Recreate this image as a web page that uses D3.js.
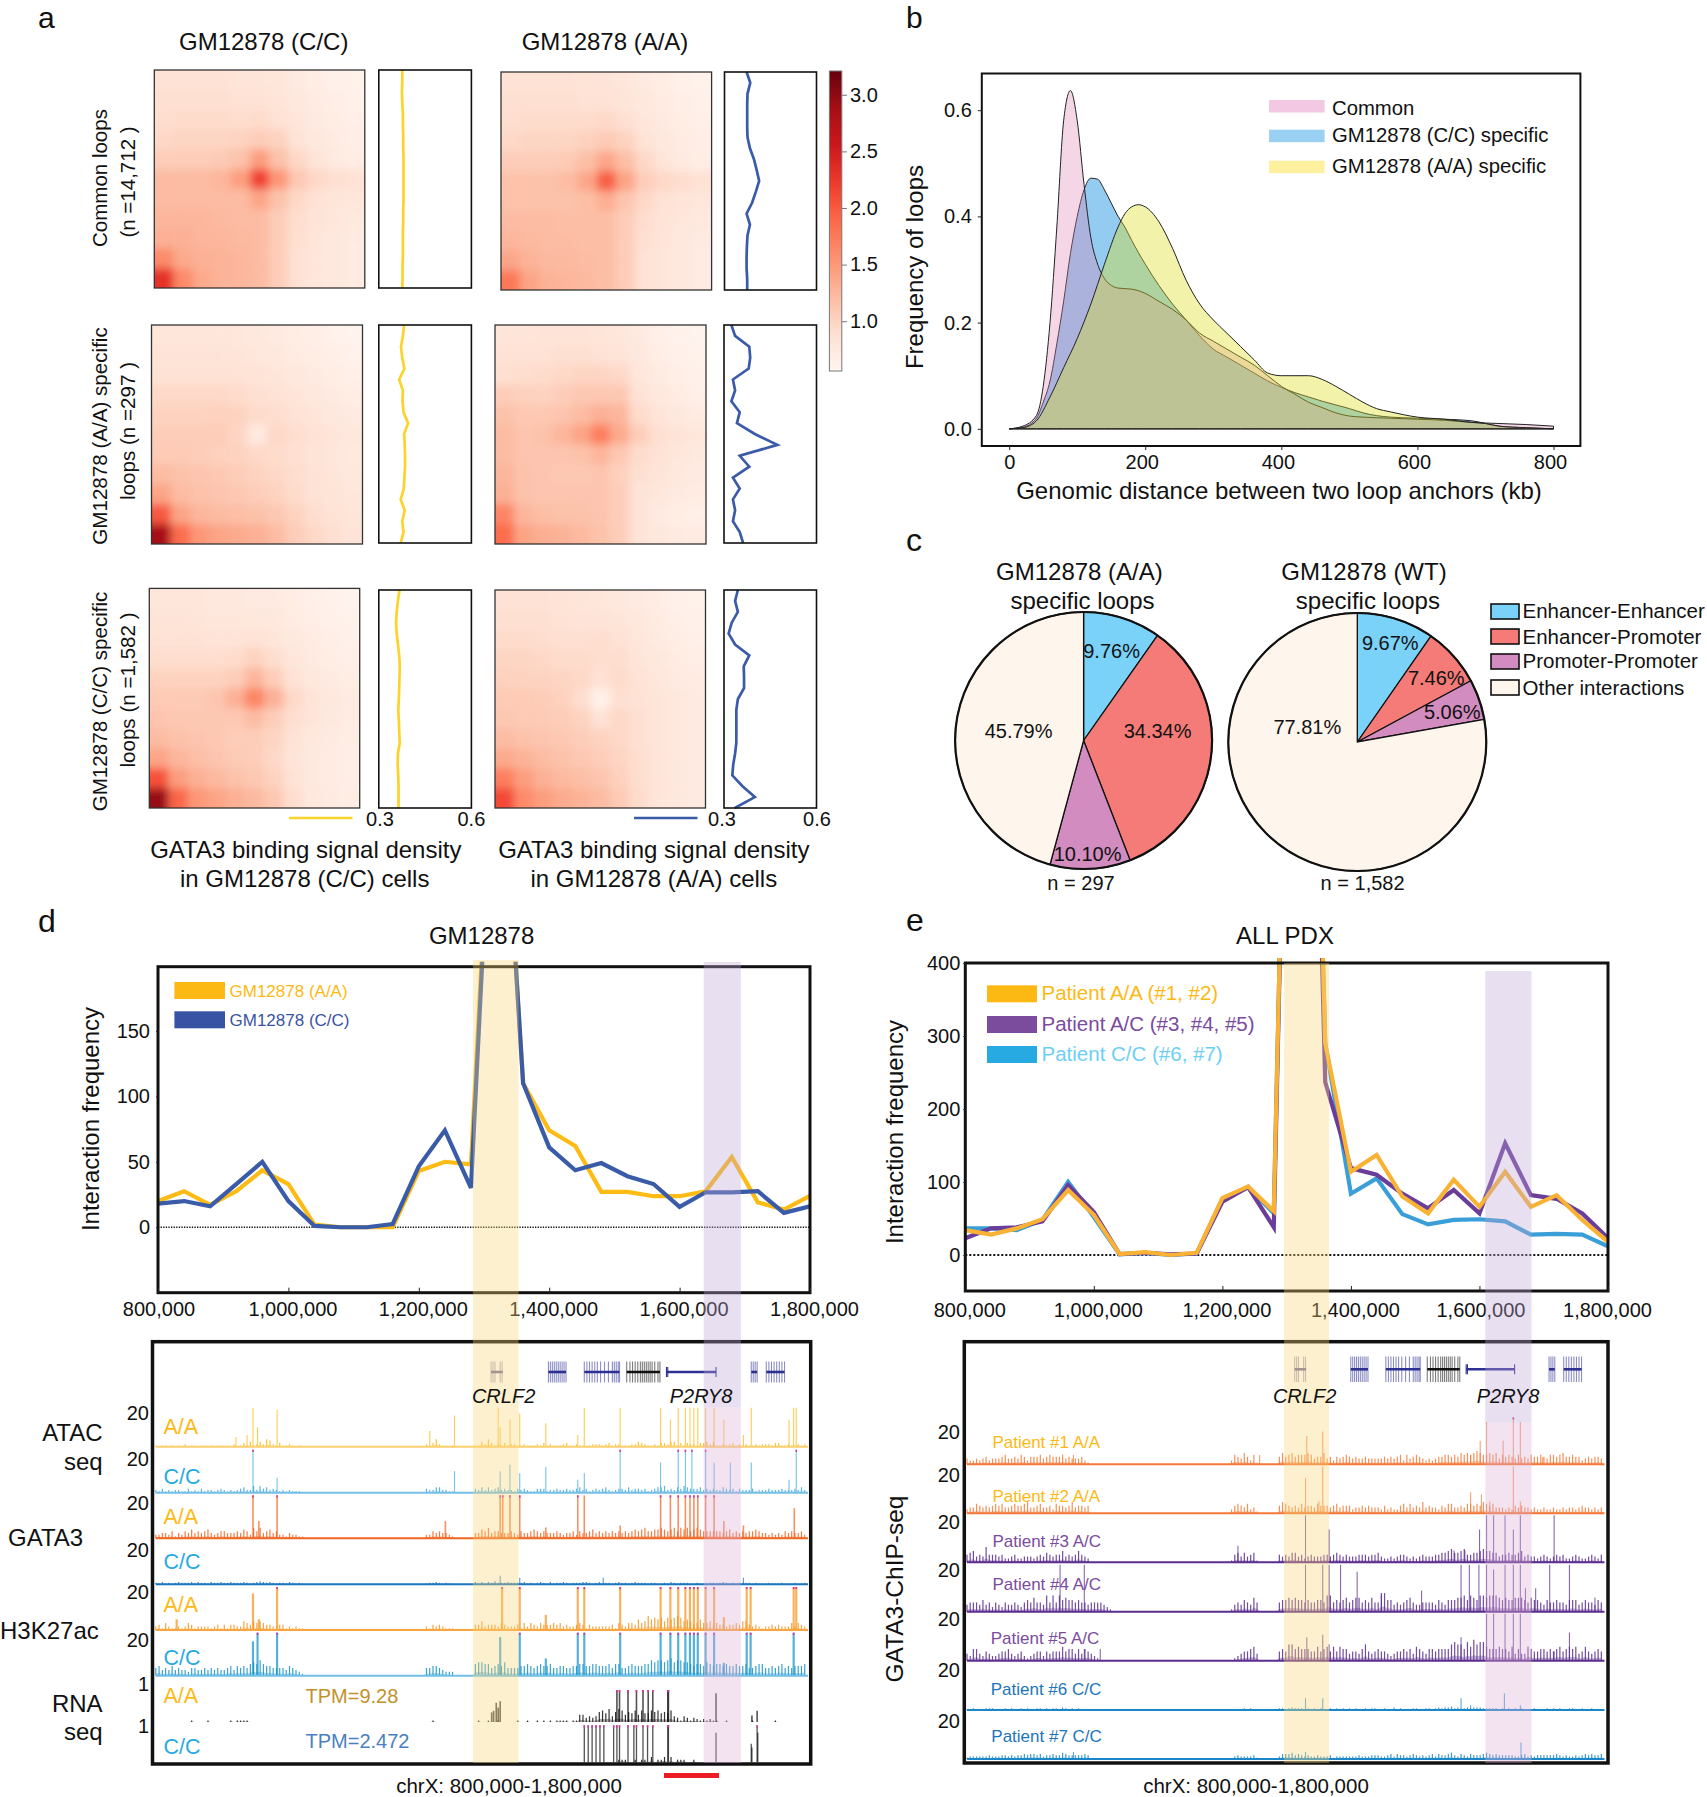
<!DOCTYPE html>
<html>
<head>
<meta charset="utf-8">
<script src="https://cdn.jsdelivr.net/npm/d3@7"></script>
<style>
body { margin: 0; background: #fff; }
text { font-family: "Liberation Sans", Arial, sans-serif; fill: #111; }
</style>
</head>
<body>
<script>
// ---------- panel a: aggregate contact maps, 11 x 11 cells, top row first
const heatCommonCC = [
  [.85,.85,.85,.85,.80,.80,.78,.72,.68,.62,.60],
  [.88,.88,.88,.88,.85,.85,.80,.75,.70,.66,.62],
  [.90,.92,.92,.92,.90,.92,.85,.78,.72,.68,.64],
  [.95,.98,.98,.98,1.0,1.05,1.0,.82,.75,.70,.66],
  [1.05,1.05,1.05,1.08,1.15,1.45,1.15,.95,.80,.72,.68],
  [1.2,1.2,1.2,1.25,1.45,2.15,1.5,1.1,.95,.88,.85],
  [1.2,1.2,1.2,1.2,1.2,1.4,1.15,.95,.85,.8,.78],
  [1.25,1.25,1.25,1.22,1.2,1.2,1.05,.9,.82,.78,.74],
  [1.3,1.3,1.25,1.25,1.22,1.2,1.05,.88,.8,.75,.72],
  [1.6,1.35,1.3,1.28,1.25,1.2,1.05,.85,.78,.75,.7],
  [2.3,1.6,1.35,1.28,1.25,1.2,1.05,.85,.78,.75,.7],
];
const heatCommonAA = [
  [.85,.85,.85,.85,.82,.82,.78,.72,.68,.62,.60],
  [.88,.88,.88,.88,.85,.85,.80,.75,.70,.66,.62],
  [.90,.92,.92,.92,.92,.95,.88,.78,.72,.68,.64],
  [.95,.98,.98,.98,1.02,1.08,1.0,.84,.75,.70,.66],
  [1.05,1.05,1.05,1.08,1.18,1.38,1.18,.95,.80,.72,.68],
  [1.15,1.15,1.15,1.2,1.38,1.95,1.4,1.05,.95,.9,.85],
  [1.15,1.15,1.15,1.15,1.18,1.32,1.12,.95,.85,.8,.78],
  [1.2,1.2,1.2,1.18,1.18,1.18,1.05,.9,.82,.78,.74],
  [1.25,1.22,1.2,1.2,1.18,1.18,1.05,.88,.8,.75,.72],
  [1.38,1.28,1.22,1.22,1.2,1.18,1.05,.85,.78,.75,.7],
  [1.75,1.4,1.28,1.25,1.22,1.18,1.05,.85,.78,.75,.7],
];
const heatAASpecCC = [
  [.78,.78,.78,.78,.78,.75,.72,.68,.66,.6,.58],
  [.82,.82,.82,.82,.8,.78,.75,.7,.68,.65,.6],
  [.85,.85,.85,.85,.85,.82,.8,.75,.72,.68,.64],
  [.95,.95,.95,.95,.92,.88,.85,.8,.75,.72,.68],
  [1.0,1.0,1.0,1.02,1.0,.92,.9,.85,.8,.75,.72],
  [1.05,1.05,1.05,1.05,.98,.72,.95,.9,.85,.8,.75],
  [1.08,1.08,1.05,1.02,1.0,.95,.92,.88,.82,.78,.74],
  [1.2,1.15,1.12,1.1,1.05,1.0,.95,.9,.85,.8,.75],
  [1.4,1.2,1.15,1.12,1.1,1.05,1.0,.92,.85,.82,.78],
  [2.0,1.4,1.25,1.2,1.18,1.15,1.1,1.0,.9,.85,.8],
  [2.85,1.85,1.5,1.4,1.35,1.3,1.2,1.05,.95,.88,.82],
];
const heatAASpecAA = [
  [.8,.8,.82,.82,.82,.8,.78,.72,.65,.6,.58],
  [.85,.85,.85,.88,.88,.85,.82,.75,.68,.62,.6],
  [.88,.9,.92,.95,.98,.98,.95,.78,.72,.66,.62],
  [1.05,1.02,1.0,1.05,1.1,1.1,1.1,.85,.75,.7,.65],
  [1.15,1.1,1.1,1.12,1.2,1.3,1.25,.92,.82,.75,.7],
  [1.2,1.12,1.15,1.25,1.4,1.7,1.35,1.05,.88,.82,.78],
  [1.2,1.12,1.12,1.12,1.15,1.25,1.1,.92,.85,.78,.74],
  [1.25,1.15,1.12,1.1,1.1,1.12,1.02,.88,.82,.76,.72],
  [1.3,1.15,1.12,1.12,1.12,1.12,1.05,.82,.78,.72,.7],
  [1.65,1.25,1.18,1.15,1.15,1.12,1.05,.82,.72,.68,.65],
  [1.85,1.4,1.32,1.28,1.22,1.15,1.05,.82,.75,.72,.7],
];
const heatCCSpecCC = [
  [.78,.78,.78,.75,.75,.72,.72,.68,.64,.6,.58],
  [.82,.82,.8,.78,.78,.76,.75,.7,.66,.62,.6],
  [.85,.85,.85,.82,.82,.85,.8,.74,.7,.66,.62],
  [.9,.9,.9,.9,.92,1.0,.9,.78,.72,.68,.64],
  [1.0,1.0,1.0,1.0,1.05,1.25,1.05,.85,.76,.72,.68],
  [1.08,1.08,1.08,1.12,1.3,1.65,1.3,.95,.82,.76,.72],
  [1.12,1.1,1.1,1.1,1.1,1.2,1.05,.9,.8,.74,.7],
  [1.2,1.15,1.12,1.1,1.05,1.05,.98,.85,.76,.72,.68],
  [1.4,1.25,1.18,1.12,1.08,1.05,.95,.82,.74,.7,.66],
  [2.05,1.45,1.3,1.22,1.15,1.1,1.0,.85,.74,.7,.66],
  [2.95,1.9,1.5,1.4,1.3,1.22,1.1,.9,.76,.72,.68],
];
const heatCCSpecAA = [
  [.85,.85,.85,.82,.8,.78,.75,.72,.68,.62,.6],
  [.88,.88,.88,.85,.82,.82,.8,.75,.7,.65,.62],
  [.92,.92,.9,.88,.88,.9,.85,.78,.72,.68,.64],
  [.98,.98,.95,.92,.92,.9,.9,.8,.75,.7,.66],
  [1.02,1.0,1.0,.98,.95,.85,.92,.84,.78,.72,.7],
  [1.08,1.08,1.05,1.02,.9,.62,.88,.85,.8,.76,.72],
  [1.1,1.08,1.08,1.05,1.0,.85,.95,.88,.8,.76,.72],
  [1.2,1.15,1.12,1.1,1.05,1.0,.95,.88,.8,.76,.72],
  [1.35,1.28,1.2,1.15,1.1,1.05,.98,.9,.8,.76,.72],
  [1.7,1.45,1.3,1.22,1.18,1.12,1.02,.9,.8,.76,.72],
  [2.1,1.6,1.45,1.35,1.28,1.2,1.08,.92,.8,.76,.72],
];
const heatStops = ["#fff5f0","#fee0d2","#fcbba1","#fc9272","#fb6a4a","#ef3b2c","#cb181d","#a50f15","#67000d"];
const colorbarTicks = [1.0, 1.5, 2.0, 2.5, 3.0];

// GATA3 signal next to each map, top to bottom
const gataCommonCC = [.376,.376,.375,.376,.378,.378,.379,.379,.380,.380,.380,.380,.380,.379,.379,.378,.378,.378,.377,.377,.376];
const gataCommonAA = [.372,.384,.375,.374,.374,.374,.375,.383,.396,.405,.413,.402,.390,.372,.383,.375,.373,.372,.372,.374,.374];
const gataAASpecCC = [.382,.378,.372,.376,.383,.366,.378,.377,.380,.395,.382,.384,.385,.385,.383,.381,.371,.384,.376,.380,.371];
const gataAASpecAA = [.324,.336,.382,.385,.380,.329,.336,.324,.351,.342,.400,.473,.351,.382,.329,.351,.329,.336,.329,.351,.362];
const gataCCSpecCC = [.367,.362,.358,.356,.358,.362,.366,.368,.367,.366,.365,.363,.365,.366,.368,.362,.361,.363,.364,.364,.364];
const gataCCSpecAA = [.345,.336,.345,.325,.315,.336,.382,.364,.365,.365,.345,.340,.340,.340,.340,.336,.330,.327,.360,.400,.335];

// ---------- panel b: loop distance density
const distCommon = [[0,0],[20,.005],[40,.025],[50,.08],[60,.2],[70,.38],[80,.58],[90,.637],[100,.58],[110,.46],[120,.36],[130,.31],[140,.283],[150,.27],[160,.265],[180,.263],[200,.255],[220,.24],[240,.225],[260,.205],[280,.18],[300,.165],[320,.15],[340,.135],[360,.12],[380,.1],[400,.08],[420,.065],[440,.05],[460,.04],[480,.03],[500,.024],[520,.022],[560,.02],[600,.018],[640,.016],[680,.012],[720,.01],[760,.008],[800,.005]];
const distCC = [[0,0],[20,.003],[40,.02],[50,.05],[60,.09],[70,.16],[80,.24],[90,.33],[100,.40],[110,.45],[120,.472],[130,.47],[140,.45],[150,.425],[160,.40],[170,.38],[180,.355],[200,.31],[220,.27],[240,.235],[260,.205],[280,.175],[300,.15],[320,.135],[340,.12],[360,.105],[380,.09],[400,.078],[420,.068],[440,.06],[460,.052],[480,.045],[500,.038],[520,.03],[560,.022],[600,.02],[640,.018],[680,.015],[720,.005],[760,.002],[800,0]];
const distAA = [[0,0],[20,.002],[40,.015],[60,.06],[80,.115],[100,.17],[120,.235],[140,.31],[160,.38],[170,.405],[180,.418],[190,.422],[200,.418],[220,.39],[240,.34],[260,.28],[280,.235],[300,.205],[320,.18],[340,.155],[360,.13],[380,.105],[400,.1],[420,.1],[440,.1],[460,.093],[480,.08],[500,.065],[520,.05],[540,.038],[560,.032],[600,.022],[640,.018],[680,.012],[700,.01],[720,.005],[760,.002],[800,0]];
const distLegend = ["Common", "GM12878 (C/C) specific", "GM12878 (A/A) specific"];
const distXTicks = [0, 200, 400, 600, 800];
const distYTicks = [0, .2, .4, .6];

// ---------- panel c
const pieCategories = ["Enhancer-Enhancer", "Enhancer-Promoter", "Promoter-Promoter", "Other interactions"];
const pieAA = [9.76, 34.34, 10.10, 45.79];
const pieWT = [9.67, 7.46, 5.06, 77.81];

// ---------- panels d and e: interaction frequency, one value per 40 kb bin
const binStarts = d3.range(26).map(i => 800000 + i * 40000);
const freqTicksX = [800000, 1000000, 1200000, 1400000, 1600000, 1800000];
const gmAA = [20,27.5,17,27.5,43.5,33,2,0,0,0,43,50,48,430,110,74,62,27,27,23.7,23.7,27.5,53.7,19,13.5,24];
const gmCC = [18,20,16,33,50,20,1,0,0,2.5,46.5,74,30,430,110,61,43.5,49,39,33,15.5,26.7,26.7,27.5,11,16];
const pdxAA = [34,28,36.5,49,89,55,1.4,4,0,3,78,94,60,1600,290,114,137,80,57,103,66,114,66,82,48,18];
const pdxAC = [23,36.5,38,46,96,59,1.4,3,1,2,73,93,38,1600,237,119,110,84,64,89,57,153,82,77,57,23];
const pdxCC = [36.5,36.5,34,48,100,52,1,3,0,2,77,93,57,1600,290,84,105,56,42,48,49,46,28,29,28,12];

// ---------- genes, kb on chrX
const geneSpans = [[1314,1332],[1402,1429],[1457,1511],[1522,1573],[1583,1659],[1713,1722],[1736,1764]];
const geneExons = [
  [1314,1317,1320,1328,1331],
  [1402,1405,1408,1411,1414,1417,1420,1423,1426,1429],
  [1457,1461,1465,1469,1473,1477,1482,1488,1494,1500,1503,1506,1509,1511],
  [1522,1527,1531,1535,1539,1543,1546,1549,1552,1555,1558,1561,1565,1570,1573],
  [1583,1585,1659],
  [1713,1716,1719,1722],
  [1736,1740,1744,1748,1752,1756,1760,1764],
];

// ---------- signal tracks: tall peaks as [kb, signal], 25 means cut off at the top of the track
const atacAAPeaks = [[923,5],[940,6],[949,20],[956,10],[986,19],[1220,8],[1258,16],[1325,20],[1328,10],[1343,14],[1358,17],[1398,12],[1447,6],[1457,20],[1512,20],[1574,20],[1589,14],[1601,20],[1612,20],[1619,20],[1625,20],[1631,20],[1643,20],[1656,20],[1671,14],[1701,6],[1713,20],[1771,14],[1778,20],[1782,20]];
const atacCCPeaks = [[949,25],[986,7],[1258,10],[1328,10],[1343,13],[1358,9],[1398,12],[1447,6],[1457,9],[1512,25],[1574,14],[1601,25],[1612,25],[1622,25],[1643,25],[1656,14],[1681,14],[1713,14],[1771,6],[1782,25]];
const gataAAPeaks = [[949,25],[958,8],[986,25],[1244,8],[1328,25],[1332,25],[1343,25],[1358,25],[1398,5],[1447,25],[1457,20],[1512,6],[1574,25],[1589,25],[1601,25],[1612,25],[1619,25],[1625,25],[1631,25],[1643,25],[1656,25],[1671,8],[1701,6],[1779,14]];
const gataCCPeaks = [[1328,4],[1358,3],[1486,3],[1701,3]];
const h3kAAPeaks = [[832,5],[949,17],[958,5],[986,25],[1331,25],[1358,25],[1398,7],[1447,25],[1457,25],[1512,25],[1574,25],[1589,25],[1601,25],[1612,25],[1619,25],[1625,25],[1631,25],[1643,25],[1656,25],[1671,6],[1706,25],[1712,25],[1778,25],[1782,25]];
const h3kCCPeaks = [[949,16],[956,25],[986,25],[1328,18],[1358,25],[1398,8],[1447,25],[1457,25],[1512,25],[1574,25],[1589,25],[1601,25],[1612,25],[1619,25],[1625,25],[1631,25],[1643,25],[1656,25],[1671,6],[1706,25],[1712,25],[1778,25]];
const rnaAAPeaks = [[1315,.3],[1318,.35],[1322,.6],[1325,.45],[1328,.65],[1507,1.2],[1511,1.2],[1524,1.2],[1537,1.2],[1547,1.2],[1555,1.2],[1562,1.2],[1585,1.2],[1586,1.2],[1659,.9],[1714,.2],[1722,.35]];
const rnaCCPeaks = [[1457,1.2],[1463,1.2],[1469,1.2],[1475,1.2],[1481,1.2],[1487,1.2],[1502,1.2],[1507,1.2],[1511,1.2],[1524,1.2],[1533,1.2],[1537,1.2],[1547,1.2],[1554,1.2],[1562,1.2],[1585,1.2],[1586,1.2],[1659,.8],[1713,.5],[1714,.4],[1722,1.2],[1723,.8]];
const p1Peaks = [[967,4],[1259,4],[1333,12],[1358,14],[1590,4],[1605,10],[1615,18],[1641,10],[1657,21],[1668,18],[1703,3]];
const p2Peaks = [[1331,15],[1352,5],[1358,20],[1590,9],[1607,8],[1620,5],[1657,20],[1668,5]];
const p3Peaks = [[1225,7],[1331,20],[1368,14],[1564,5],[1581,5],[1604,14],[1615,20],[1626,20],[1644,20],[1657,14],[1668,20],[1721,20]];
const p4Peaks = [[946,20],[984,20],[1331,20],[1358,20],[1368,20],[1386,20],[1412,17],[1450,7],[1513,9],[1575,20],[1588,20],[1603,20],[1615,20],[1626,18],[1644,20],[1657,20],[1668,20],[1676,10],[1692,10],[1714,20],[1745,20],[1785,6]];
const p5Peaks = [[984,5],[1009,5],[1333,10],[1358,11],[1368,7],[1575,10],[1615,20],[1626,20],[1644,20],[1657,20],[1668,20],[1721,4],[1745,12]];
const p6Peaks = [[1331,5],[1358,5],[1575,5],[1590,2],[1643,7],[1668,2]];
const p7Peaks = [[967,3],[1331,3],[1669,7]];

// small signal, one digit per 5 kb bin: left part from 800 kb, middle from 1215 kb, right part from 1290 kb
const atacAANoise = ["10110101020110110101101020131412426521311210100", "213621101", "1142631213122112111213121112301211012221231221112243211213324413132213342411212312121121222133112112122321"];
const atacCCNoise = ["21312122113121312212321212342252534232121211100", "322442211", "3242423423221323211333122322322342312323421233242332312344523243543334232322432313222312223222322232423222"];
const gataAANoise = ["22332413243534345323443334354264634534221322110", "224343321", "3354634433343243345434333432334243345343434343434545644556545646564565444444345343434454332323243433423433"];
const gataCCNoise = ["21312123222323221322322322232123432321221321210", "122321211", "3131324222322223121232131223212223321231221232212322212211213212221121112212321212222121112111211121121212"];
const h3kAANoise = ["23142112124312222123131332254354543322331212110", "213232111", "3352333243222314243243334342322343132222223143244364586767576787565346445343323343553232122323222424322343"];
const h3kCCNoise = ["45343534332443343434334535454676865544443543210", "445543222", "6776645657444455654565564455445566556655564664456555668788789788776566576566565565564456644545645455564545"];
const rnaAANoise = ["00000000000100001000000101111000000000000000000", "001000000", "0100100100000100100101010111101155343478694798576858668786768431431321212110010000000100000010000000001000"];
const rnaCCNoise = ["00000000000000000000000000000000000000000000000", "000000000", "0000000000000000000000000000000000000000000011100101102011202011100100000000000000000000000000000000000000"];
const p1Noise = ["32232342333453343542444534544453433342100000000", "254364251", "4645645556534463424345434334333334343452534543232344554546565676556563545435343544543554564454423434434342"];
const p2Noise = ["23354343454533454456334533425443463443400000000", "245435231", "4654343534435444345344423343433324232245353436343324355334355454654533323243433232232232232332343323235454"];
const p3Noise = ["45634384443422342233323435434463434643200000000", "145353451", "4343553423433344345434333444344532232344323234333445567556744556766553445445634332343234342234322343245443"];
const p4Noise = ["34443534243243343245464437474756554544344443210", "134354364", "4556565545445547745456456645464488553434564334444354355566757657767776565566654655435445443555345443545544"];
const p5Noise = ["32553243223445323421234424344464553535432100000", "012344563", "4547756555446456464655344357434544323445453654355455557877586978865556554635336544554545645656346434544544"];
const p6Noise = ["11211122211121211212112212122132121211100000000", "011121211", "2212322212121211212121212112122112113121112211221232334232232333222221212121211121112121211221121121112212"];
const p7Noise = ["12222223222332323343443423343354333334300000000", "023222231", "2444534323223222312222222322233322342433234323234243345324324333454343333322342323333334323223234343343342"];

const svg = d3.select("body").append("svg").attr("width", 1707).attr("height", 1797);

function label(parent, x, y, str, size, anchor, color, extra) {
  const t = parent.append("text").attr("x", x).attr("y", y).attr("font-size", size)
    .attr("text-anchor", anchor || "start").text(str);
  if (color) t.style("fill", color);
  if (extra) t.style("font-style", extra);
  return t;
}
function vlabel(parent, x, y, str, size) {
  return parent.append("text").attr("transform", `translate(${x},${y}) rotate(-90)`)
    .attr("font-size", size).attr("text-anchor", "middle").text(str);
}
function styleAxis(g, size) {
  g.select(".domain").remove();
  g.selectAll("line").attr("stroke", "#222");
  g.selectAll("text").attr("font-size", size).style("font-family", '"Liberation Sans", Arial, sans-serif');
}

// ---------- panel a
const heatColor = d3.scaleLinear().domain(heatStops.map((c, i) => .55 + i * (3.2 - .55) / 8)).range(heatStops);

svg.append("defs").append("filter").attr("id", "soft").append("feGaussianBlur").attr("stdDeviation", 4.2);

function drawHeat(matrix, x0, x1, y0, y1, id) {
  const cols = d3.scaleBand().domain(d3.range(11)).range([x0, x1]);
  const rows = d3.scaleBand().domain(d3.range(11)).range([y0, y1]);
  svg.select("defs").append("clipPath").attr("id", id).append("rect")
    .attr("x", x0).attr("y", y0).attr("width", x1 - x0).attr("height", y1 - y0);
  const g = svg.append("g").attr("clip-path", `url(#${id})`).append("g").attr("filter", "url(#soft)");
  matrix.forEach((row, r) => row.forEach((v, c) => {
    // edge cells run past the clip so the blur does not fade at the border
    const pad = 20;
    g.append("rect")
      .attr("x", cols(c) - (c === 0 ? pad : 0))
      .attr("y", rows(r) - (r === 0 ? pad : 0))
      .attr("width", cols.bandwidth() + (c === 0 || c === 10 ? pad : 0) + .5)
      .attr("height", rows.bandwidth() + (r === 0 || r === 10 ? pad : 0) + .5)
      .attr("fill", heatColor(v));
  }));
  svg.append("rect").attr("x", x0).attr("y", y0).attr("width", x1 - x0).attr("height", y1 - y0)
    .attr("fill", "none").attr("stroke", "#333").attr("stroke-width", 1.3);
}
function drawSignal(values, x0, x1, y0, y1, color) {
  const x = d3.scaleLinear().domain([.3, .6]).range([x0, x1]);
  const y = d3.scalePoint().domain(d3.range(values.length)).range([y0, y1]);
  svg.append("path").attr("fill", "none").attr("stroke", color).attr("stroke-width", 2.7)
    .attr("d", d3.line().x(d => x(d)).y((d, i) => y(i))(values));
  svg.append("rect").attr("x", x0).attr("y", y0).attr("width", x1 - x0).attr("height", y1 - y0)
    .attr("fill", "none").attr("stroke", "#111").attr("stroke-width", 1.6);
}
const yellowLine = "#fcd32a", blueLine = "#3a5ba8";
drawHeat(heatCommonCC, 154.3, 364.8, 70, 288, "h1");
drawHeat(heatCommonAA, 501, 711.6, 72, 290, "h2");
drawHeat(heatAASpecCC, 151.5, 362.5, 325, 544, "h3");
drawHeat(heatAASpecAA, 495, 706, 325, 544, "h4");
drawHeat(heatCCSpecCC, 149.3, 359.7, 588.4, 808, "h5");
drawHeat(heatCCSpecAA, 495, 705.5, 590, 808, "h6");
drawSignal(gataCommonCC, 378.8, 471.4, 70, 288, yellowLine);
drawSignal(gataCommonAA, 724.5, 816.5, 72, 290, blueLine);
drawSignal(gataAASpecCC, 378.8, 471.4, 325, 543, yellowLine);
drawSignal(gataAASpecAA, 724, 816.5, 325, 543, blueLine);
drawSignal(gataCCSpecCC, 378.8, 471.4, 590, 808, yellowLine);
drawSignal(gataCCSpecAA, 724, 816.5, 590, 808, blueLine);

// colour bar
const barGrad = svg.select("defs").append("linearGradient").attr("id", "barGrad")
  .attr("x1", 0).attr("x2", 0).attr("y1", 1).attr("y2", 0);
heatStops.forEach((c, i) => barGrad.append("stop").attr("offset", i / 8).attr("stop-color", c));
svg.append("rect").attr("x", 829.4).attr("y", 71).attr("width", 12.4).attr("height", 300)
  .attr("fill", "url(#barGrad)").attr("stroke", "#777").attr("stroke-width", 1);
const barScale = d3.scaleLinear().domain([.56, 3.21]).range([371, 71]);
svg.append("g").attr("transform", "translate(842,0)")
  .call(d3.axisRight(barScale).tickValues(colorbarTicks).tickFormat(d3.format(".1f")).tickSize(5).tickPadding(3))
  .call(g => styleAxis(g, 20)).selectAll("line").attr("stroke", "#777");

label(svg, 38, 27.5, "a", 30);
label(svg, 263.7, 50, "GM12878 (C/C)", 24, "middle");
label(svg, 605, 50, "GM12878 (A/A)", 24, "middle");
vlabel(svg, 106.6, 178, "Common loops", 20.5);
vlabel(svg, 134.7, 182, "(n =14,712 )", 20.5);
vlabel(svg, 106.6, 436, "GM12878 (A/A) specific", 20.6);
vlabel(svg, 134.7, 431, "loops (n =297 )", 20.6);
vlabel(svg, 106.6, 701.5, "GM12878 (C/C) specific", 20.6);
vlabel(svg, 134.7, 690, "loops (n =1,582 )", 20.6);
svg.append("line").attr("x1", 289).attr("x2", 352.4).attr("y1", 818).attr("y2", 818).attr("stroke", yellowLine).attr("stroke-width", 2.7);
svg.append("line").attr("x1", 634).attr("x2", 697.5).attr("y1", 818).attr("y2", 818).attr("stroke", blueLine).attr("stroke-width", 2.7);
label(svg, 380, 826, "0.3", 20, "middle");
label(svg, 471.4, 826, "0.6", 20, "middle");
label(svg, 722, 826, "0.3", 20, "middle");
label(svg, 817, 826, "0.6", 20, "middle");
label(svg, 305.8, 858, "GATA3 binding signal density", 24, "middle");
label(svg, 304.7, 887, "in GM12878 (C/C) cells", 24, "middle");
label(svg, 653.8, 858, "GATA3 binding signal density", 24, "middle");
label(svg, 653.8, 887, "in GM12878 (A/A) cells", 24, "middle");

// ---------- panel b
const distX = d3.scaleLinear().domain([0, 800]).range([1009.2, 1553.5]);
const distY = d3.scaleLinear().domain([0, .6]).range([428.8, 110.2]);
const distArea = d3.area().x(d => distX(d[0])).y0(distY(0)).y1(d => distY(d[1])).curve(d3.curveMonotoneX);
// blue goes first, pink and yellow lie over it
[[distCC, "#52ace9", .62], [distCommon, "#dc7fb4", .32], [distAA, "#dcdc20", .38]].forEach(s => {
  svg.append("path").attr("d", distArea(s[0])).attr("fill", s[1]).attr("fill-opacity", s[2])
    .attr("stroke", "#222").attr("stroke-width", 1);
});
svg.append("rect").attr("x", 981.8).attr("y", 73.5).attr("width", 598.6).attr("height", 372.5)
  .attr("fill", "none").attr("stroke", "#111").attr("stroke-width", 2);
svg.append("g").attr("transform", "translate(0,446)")
  .call(d3.axisBottom(distX).tickValues(distXTicks).tickSize(4).tickPadding(5)).call(g => styleAxis(g, 20))
  .selectAll("text").attr("dx", d => d === 0 ? 0 : -3.5);
svg.append("g").attr("transform", "translate(981.8,0)")
  .call(d3.axisLeft(distY).tickValues(distYTicks).tickFormat(d3.format(".1f")).tickSize(4).tickPadding(6)).call(g => styleAxis(g, 20));
distLegend.forEach((s, i) => {
  const sy = [100, 129.7, 160.7][i], by = [114.8, 142.4, 173.4][i];
  svg.append("rect").attr("x", 1269).attr("y", sy).attr("width", 55.6).attr("height", 12.5).attr("fill", ["#f2c8e2", "#9ad0f2", "#fdf09e"][i]);
  label(svg, 1332, by, s, 20.3);
});
label(svg, 906, 27.5, "b", 30);
label(svg, 1279, 499.4, "Genomic distance between two loop anchors (kb)", 24, "middle");
vlabel(svg, 923, 267, "Frequency of loops", 24);

// ---------- panel c
const pieColors = ["#7ad2f8", "#f47b78", "#d28cbf", "#fef5ec"];
const pieLayout = d3.pie().sort(null);
function drawPie(values, cx, cy, r, offsets) {
  const g = svg.append("g").attr("transform", `translate(${cx},${cy})`);
  const arc = d3.arc().innerRadius(0).outerRadius(r);
  g.selectAll("path").data(pieLayout(values)).enter().append("path")
    .attr("d", arc).attr("fill", (d, i) => pieColors[i]).attr("stroke", "#111").attr("stroke-width", 1.3);
  g.append("circle").attr("r", r).attr("fill", "none").attr("stroke", "#111").attr("stroke-width", 2.2);
  values.forEach((v, i) => {
    label(g, offsets[i][0], offsets[i][1] + 7, d3.format(".2f")(v) + "%", 20, "middle");
  });
}
drawPie(pieAA, 1083.6, 740.5, 128.5, [[28,-90],[74,-10],[4,113],[-65,-10]]);
drawPie(pieWT, 1357.3, 742, 129, [[33,-99],[79,-64],[95,-30],[-50,-15.5]]);
label(svg, 906, 551, "c", 32);
label(svg, 1079.4, 580, "GM12878 (A/A)", 24, "middle");
label(svg, 1082.5, 608.5, "specific loops", 24, "middle");
label(svg, 1364, 580, "GM12878 (WT)", 24, "middle");
label(svg, 1367.9, 608.5, "specific loops", 24, "middle");
label(svg, 1081, 890, "n = 297", 20, "middle");
label(svg, 1362.6, 890, "n = 1,582", 20, "middle");
pieCategories.forEach((s, i) => {
  const sy = [604, 629, 654, 680][i], by = [618, 644, 668, 694.6][i];
  svg.append("rect").attr("x", 1491).attr("y", sy).attr("width", 28).attr("height", 15)
    .attr("fill", pieColors[i]).attr("stroke", "#111").attr("stroke-width", 1.6);
  label(svg, 1522.5, by, s, 20.5);
});

// ---------- panels d and e
function drawFreq(cfg) {
  const x = d3.scaleLinear().domain([800000, 1800000]).range(cfg.xRange);
  const y = d3.scaleLinear().domain(cfg.yDomain).range(cfg.yRange);
  const [fx0, fx1] = cfg.xRange, [fy1, fy0] = cfg.yRange;
  svg.select("defs").append("clipPath").attr("id", cfg.id).append("rect")
    .attr("x", fx0).attr("y", fy0 - 5).attr("width", fx1 - fx0).attr("height", fy1 - fy0 + 5);
  svg.append("line").attr("x1", fx0).attr("x2", fx1).attr("y1", y(0)).attr("y2", y(0))
    .attr("stroke", "#111").attr("stroke-width", cfg.dotW).attr("stroke-dasharray", `${cfg.dotW} ${cfg.dotW}`);
  const line = d3.line().x((d, i) => x(binStarts[i])).y(d => y(d));
  const lines = svg.append("g").attr("clip-path", `url(#${cfg.id})`);
  cfg.series.forEach(s => {
    lines.append("path").attr("d", line(s.values)).attr("fill", "none")
      .attr("stroke", s.color).attr("stroke-width", 4.2).attr("stroke-linejoin", "miter");
  });
  svg.append("rect").attr("x", fx0).attr("y", fy0).attr("width", fx1 - fx0).attr("height", fy1 - fy0)
    .attr("fill", "none").attr("stroke", "#111").attr("stroke-width", 3);
  svg.append("g").attr("transform", `translate(0,${fy1})`)
    .call(d3.axisBottom(x).tickValues(freqTicksX).tickFormat(d3.format(",")).tickSize(-5).tickPadding(cfg.xPad))
    .call(g => styleAxis(g, 20)).selectAll("text").attr("dx", (d, i) => cfg.labelDx[i]);
  svg.append("g").attr("transform", `translate(${fx0},0)`)
    .call(d3.axisLeft(y).tickValues(cfg.yTicks).tickSize(2).tickPadding(cfg.yPad)).call(g => styleAxis(g, 20));
  cfg.legend.forEach(l => {
    svg.append("rect").attr("x", l.x).attr("y", l.y).attr("width", l.w).attr("height", 17).attr("fill", l.color);
    label(svg, l.x + l.w + 4.5, l.y + 15, l.text, cfg.legendSize, "start", l.textColor);
  });
}

function drawGenes(x, yc, halfH) {
  const colors = ["#77749f", "#2e3192", "#2e3192", "#111", "#2e3192", "#2e3192", "#2e3192"];
  geneSpans.forEach((span, i) => {
    svg.append("line").attr("x1", x(span[0])).attr("x2", x(span[1])).attr("y1", yc).attr("y2", yc)
      .attr("stroke", colors[i]).attr("stroke-width", 2.6);
    geneExons[i].forEach(e => {
      svg.append("line").attr("x1", x(e)).attr("x2", x(e)).attr("y1", yc - (i === 4 ? 5 : halfH)).attr("y2", yc + (i === 4 ? 5 : halfH))
        .attr("stroke", colors[i]).attr("stroke-width", 1.1).attr("stroke-opacity", i === 4 ? 1 : .55);
    });
  });
}

// each bin a thin spike over a faint fill, tall peaks as lines, baseline on top
function drawTrack(x, base, h, max, color, peaks, noise, unit, baseColor, peakW) {
  const y = d3.scaleLinear().domain([0, max]).range([base, base - h]).clamp(true);
  const bins = new Array(200).fill(0);
  noise.forEach((part, k) => part.split("").forEach((c, i) => {
    const at = [0, 83, 98][k] + i;
    if (at < 200) bins[at] = +c;
  }));
  const area = d3.area().x((d, i) => x(800 + i * 5)).y0(base).y1(d => y(d * unit * .5));
  svg.append("path").attr("d", area(bins)).attr("fill", color).attr("fill-opacity", .35);
  svg.append("g").selectAll("line").data(bins).enter().append("line")
    .attr("x1", (d, i) => x(800 + i * 5)).attr("x2", (d, i) => x(800 + i * 5))
    .attr("y1", base).attr("y2", d => y(d * unit * 1.8))
    .attr("stroke", color).attr("stroke-width", 1.2).attr("stroke-opacity", .85);
  peaks.forEach(p => {
    svg.append("line").attr("x1", x(p[0])).attr("x2", x(p[0])).attr("y1", base).attr("y2", y(p[1]))
      .attr("stroke", color).attr("stroke-width", peakW || 1.1).attr("stroke-opacity", .72);
    if (p[1] > max) {
      svg.append("rect").attr("x", x(p[0]) - .8).attr("y", base - h).attr("width", 1.6).attr("height", 2.2).attr("fill", "#d0399b");
    }
  });
  if (baseColor) {
    svg.append("line").attr("x1", x(800)).attr("x2", x(1800)).attr("y1", base).attr("y2", base)
      .attr("stroke", baseColor).attr("stroke-width", 2);
  }
}

function drawBands(x, bands) {
  bands.forEach(b => {
    b.parts.forEach(p => {
      svg.append("rect").attr("x", x(b.from * 1000)).attr("width", x(b.to * 1000) - x(b.from * 1000))
        .attr("y", p[0]).attr("height", p[1] - p[0]).attr("fill", p[2]).attr("fill-opacity", .35);
    });
  });
}

const amber = "#fdb913", sky = "#27aae1", deepBlue = "#1c75bc", violet = "#7b4b9e";

// panel d
label(svg, 38, 932, "d", 32);
label(svg, 481.6, 944, "GM12878", 24, "middle");
vlabel(svg, 98.7, 1119, "Interaction frequency", 24);
drawFreq({
  id: "clipD", xRange: [158, 810], yRange: [1292.7, 966.7], yDomain: [-50, 199], yTicks: [0, 50, 100, 150],
  xPad: 9, yPad: 6, legendSize: 17, dotW: 1.3, labelDx: [.5, 4, 4, 4, 4, 4],
  series: [{ values: gmAA, color: "#fdbb13" }, { values: gmCC, color: "#3a5ba8" }],
  legend: [
    { x: 174.4, y: 982, w: 50.6, color: amber, text: "GM12878 (A/A)", textColor: amber },
    { x: 174.4, y: 1011.3, w: 50.6, color: "#3953a4", text: "GM12878 (C/C)", textColor: "#3953a4" },
  ],
});
svg.append("rect").attr("x", 152.5).attr("y", 1341.7).attr("width", 658.2).attr("height", 422.3)
  .attr("fill", "none").attr("stroke", "#111").attr("stroke-width", 3.5);
const trackD = d3.scaleLinear().domain([800, 1800]).range([155.8, 808]);
drawGenes(trackD, 1372, 10.5);
drawTrack(trackD, 1446.7, 39, 20, "#fdb913", atacAAPeaks, atacAANoise, .35, "#fdcf6e");
drawTrack(trackD, 1492.7, 43, 20, "#3fa9dc", atacCCPeaks, atacCCNoise, .35, "#74bfe6");
drawTrack(trackD, 1538.3, 43, 20, "#f26522", gataAAPeaks, gataAANoise, .45, "#f26522", 1.6);
drawTrack(trackD, 1584.3, 43, 20, "#1b75bc", gataCCPeaks, gataCCNoise, .2, "#1b75bc");
drawTrack(trackD, 1630, 43, 20, "#f7941d", h3kAAPeaks, h3kAANoise, .45, "#f9a640", 2.2);
drawTrack(trackD, 1675.7, 43, 20, "#1593c9", h3kCCPeaks, h3kCCNoise, .5, "#6fbfe6", 2.2);
drawTrack(trackD, 1722, 32, 1, "#111", rnaAAPeaks, rnaAANoise, .025, null, 1.6);
drawTrack(trackD, 1762.3, 37, 1, "#111", rnaCCPeaks, rnaCCNoise, .04, null, 1.3);
const xFreqD = d3.scaleLinear().domain([800000, 1800000]).range([158, 810]);
drawBands(xFreqD, [
  { from: 1283, to: 1353, parts: [[960, 1763, "#f9d476"]] },
  { from: 1637, to: 1694, parts: [[962, 1407, "#bda6d4"], [1407, 1763, "#ddafd7"]] },
]);
[["ATAC", 1440.7], ["seq", 1470], ["RNA", 1711.7], ["seq", 1740]].forEach(d => label(svg, 102.6, d[1], d[0], 24, "end"));
label(svg, 8, 1546, "GATA3", 24);
label(svg, 0, 1639, "H3K27ac", 24);
[["20", 1420], ["20", 1466], ["20", 1510], ["20", 1556.7], ["20", 1599], ["20", 1647.3], ["1", 1690.7], ["1", 1733.3]]
  .forEach(d => label(svg, 149, d[1], d[0], 20, "end"));
[["A/A", 1434, amber], ["C/C", 1484, sky], ["A/A", 1524.3, amber], ["C/C", 1569, sky], ["A/A", 1612, amber], ["C/C", 1665, sky], ["A/A", 1703, amber], ["C/C", 1754, sky]]
  .forEach(d => label(svg, 163.5, d[1], d[0], 21.5, "start", d[2]));
label(svg, 305.5, 1702.7, "TPM=9.28", 20, "start", "#c1922a");
label(svg, 305.5, 1748, "TPM=2.472", 20, "start", "#4a7fc1");
label(svg, 503.6, 1403.3, "CRLF2", 20, "middle", null, "italic");
label(svg, 701, 1403.3, "P2RY8", 20, "middle", null, "italic");
label(svg, 509, 1792.7, "chrX: 800,000-1,800,000", 20.5, "middle");
svg.append("rect").attr("x", 664).attr("y", 1773).attr("width", 55).attr("height", 5).attr("fill", "#ed1c24");

// panel e
label(svg, 906, 931, "e", 32);
label(svg, 1285, 944.3, "ALL PDX", 24, "middle");
vlabel(svg, 903, 1132, "Interaction frequency", 24);
drawFreq({
  id: "clipE", xRange: [965.3, 1608], yRange: [1291, 963], yDomain: [-49.3, 400], yTicks: [0, 100, 200, 300, 400],
  xPad: 11.5, yPad: 3, legendSize: 20.5, dotW: 2, labelDx: [4, 4, 4, 4, 1, -1],
  series: [{ values: pdxCC, color: "#3a9fd8" }, { values: pdxAC, color: "#6a3d9a" }, { values: pdxAA, color: "#f9b233" }],
  legend: [
    { x: 987, y: 985.3, w: 50, color: amber, text: "Patient A/A (#1, #2)", textColor: amber },
    { x: 987, y: 1016, w: 50, color: violet, text: "Patient A/C (#3, #4, #5)", textColor: violet },
    { x: 987, y: 1046, w: 50, color: sky, text: "Patient C/C (#6, #7)", textColor: "#6dcff6" },
  ],
});
svg.append("rect").attr("x", 964.3).attr("y", 1341.7).attr("width", 643.7).attr("height", 421.3)
  .attr("fill", "none").attr("stroke", "#111").attr("stroke-width", 3.5);
const trackE = d3.scaleLinear().domain([800, 1800]).range([967, 1604.5]);
drawGenes(trackE, 1369.3, 12.8);
drawTrack(trackE, 1464.3, 47, 20, "#f47c3c", p1Peaks, p1Noise, .45, "#f4793a");
drawTrack(trackE, 1513.3, 47, 20, "#f47c3c", p2Peaks, p2Noise, .45, "#f4793a");
drawTrack(trackE, 1562.3, 47, 20, "#5b2d8e", p3Peaks, p3Noise, .45, "#5b2d8e");
drawTrack(trackE, 1611.7, 47, 20, "#5b2d8e", p4Peaks, p4Noise, .55, "#5b2d8e");
drawTrack(trackE, 1660.7, 47, 20, "#5b2d8e", p5Peaks, p5Noise, .55, "#5b2d8e");
drawTrack(trackE, 1710, 47, 20, "#1b87c9", p6Peaks, p6Noise, .2, "#1b87c9");
drawTrack(trackE, 1759, 47, 20, "#1b87c9", p7Peaks, p7Noise, .3, "#1b87c9");
const xFreqE = d3.scaleLinear().domain([800000, 1800000]).range([965.3, 1608]);
drawBands(xFreqE, [
  { from: 1296, to: 1366, parts: [[963, 1763, "#f9d476"]] },
  { from: 1609, to: 1681, parts: [[971, 1422.7, "#bda6d4"], [1422.7, 1763, "#ddafd7"]] },
]);
[1439, 1481.7, 1529, 1577.3, 1626, 1677.3, 1728.3].forEach(y => label(svg, 960, y, "20", 20, "end"));
[["Patient #1 A/A", 992.4, 1448.3, amber], ["Patient #2 A/A", 992.4, 1502.3, amber], ["Patient #3 A/C", 992.4, 1546.7, violet],
 ["Patient #4 A/C", 992.4, 1590, violet], ["Patient #5 A/C", 990.7, 1644, violet], ["Patient #6 C/C", 990.7, 1695.3, deepBlue], ["Patient #7 C/C", 991.3, 1742.3, deepBlue]]
  .forEach(d => label(svg, d[1], d[2], d[0], 17, "start", d[3]));
vlabel(svg, 903, 1589, "GATA3-ChIP-seq", 24.5);
label(svg, 1304.6, 1403.3, "CRLF2", 20, "middle", null, "italic");
label(svg, 1508, 1403.3, "P2RY8", 20, "middle", null, "italic");
label(svg, 1256, 1792.7, "chrX: 800,000-1,800,000", 20.5, "middle");
</script>
</body>
</html>
